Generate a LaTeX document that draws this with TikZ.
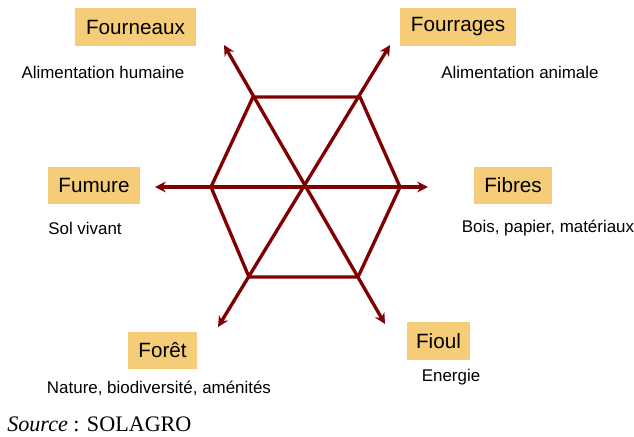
\documentclass[tikz,border=0pt]{standalone}
\usepackage{fontspec}
\setmainfont{Liberation Sans}
\newfontfamily\timesfont{Liberation Serif}
\usetikzlibrary{arrows.meta, positioning}
\definecolor{arrowred}{HTML}{7F0000}
\definecolor{boxgold}{HTML}{F5CD78}

\begin{document}
\begin{tikzpicture}[
    x=0.75pt, y=-0.75pt,
    fbox/.style={rectangle, fill=boxgold, inner sep=0pt, minimum height=28pt, font=\fontsize{15.5}{18}\selectfont},
    sub/.style={font=\fontsize{12.7}{14}\selectfont, inner sep=0pt},
    arr/.style={{Stealth[length=8pt, width=8pt]}-{Stealth[length=8pt, width=8pt]}, draw=arrowred, line width=2.5pt},
    edge/.style={draw=arrowred, line width=2.5pt, line join=round}
    ]
    \useasboundingbox (0,0) rectangle (634,436);

    % Hexagon corners
    \coordinate (c) at (305,187);
    \coordinate (h1) at (400,187);
    \coordinate (h2) at (360,97);
    \coordinate (h3) at (253,97);
    \coordinate (h4) at (211,187);
    \coordinate (h5) at (249,277);
    \coordinate (h6) at (358,277);

    % Arrow ends
    \coordinate (tfibres) at (428,187);
    \coordinate (tfumure) at (155,187);
    \coordinate (tfourneaux) at (224,45);
    \coordinate (tfourrages) at (390,45);
    \coordinate (tforet) at (218,327);
    \coordinate (tfioul) at (385,324);

    % Labels
    \node[fbox, minimum width=91pt] (fourneaux) at (135.5,27) {Fourneaux};
    \node[sub] (alimh) at (103,72) {Alimentation humaine};
    \node[fbox, minimum width=87pt] (fourrages) at (458,27) {Fourrages};
    \node[sub] (alima) at (520,72) {Alimentation animale};
    \node[fbox, minimum width=69pt] (fumure) at (94,185.5) {Fumure};
    \node[sub] (sol) at (85,228) {Sol vivant};
    \node[fbox, minimum width=58pt] (fibres) at (513,185.5) {Fibres};
    \node[sub] (bois) at (548,228) {Bois, papier, matériaux};
    \node[fbox, minimum width=52pt] (foret) at (162.5,350.5) {Forêt};
    \node[sub] (nature) at (159,388) {Nature, biodiversité, aménités};
    \node[fbox, minimum width=47pt] (fioul) at (438.5,341) {Fioul};
    \node[sub] (energie) at (451,377) {Energie};

    % Source
    \node[anchor=west, inner sep=0pt, font=\timesfont\fontsize{16.6}{18}\selectfont] (source) at (7,424) {\textit{Source} : SOLAGRO};

    % Hexagon
    \draw[edge] (h1) -- (h2) -- (h3) -- (h4) -- (h5) -- (h6) -- cycle;

    % Arrows through the centre
    \draw[arr] (tfumure) -- (tfibres);
    \draw[arr] (tfioul) -- (tfourneaux);
    \draw[arr] (tforet) -- (tfourrages);

\end{tikzpicture}
\end{document}
